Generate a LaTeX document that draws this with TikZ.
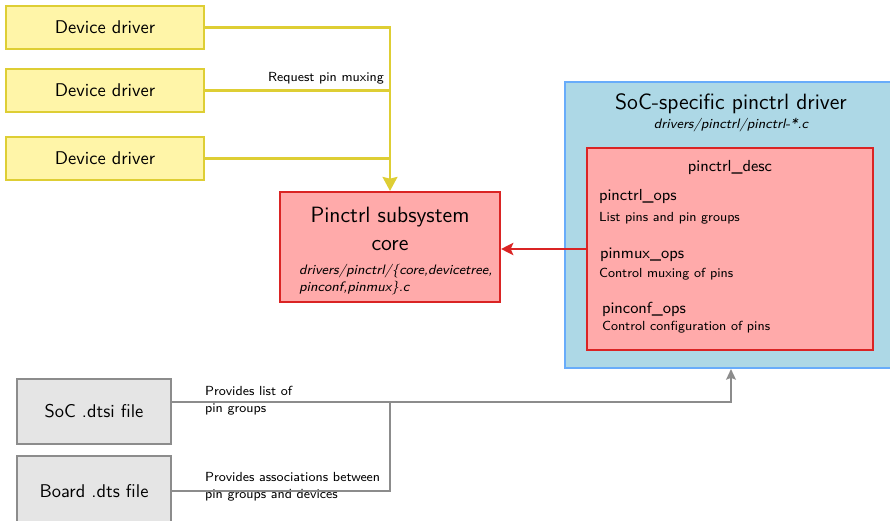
\documentclass[tikz,border=0pt]{standalone}
\usetikzlibrary{arrows.meta}
\usepackage{xcolor}
\definecolor{ddfill}{RGB}{255,245,168}
\definecolor{ddline}{RGB}{222,206,52}
\definecolor{corefill}{RGB}{255,170,170}
\definecolor{coreline}{RGB}{218,36,36}
\definecolor{socfill}{RGB}{173,216,230}
\definecolor{socline}{RGB}{104,172,250}
\definecolor{dtfill}{RGB}{229,229,229}
\definecolor{dtline}{RGB}{140,140,140}

\begin{document}
\begin{tikzpicture}[x=0.02cm, y=-0.02cm, line width=1.2pt,
    every node/.style={font=\sffamily\fontsize{10.5}{12}\selectfont},
    box/.style={draw, rectangle, inner sep=0pt},
    ddbox/.style={box, draw=ddline, fill=ddfill, minimum width=3.96cm, minimum height=0.86cm},
    dtbox/.style={box, draw=dtline, fill=dtfill, minimum width=3.08cm},
    big/.style={inner sep=0pt, align=center, font=\sffamily\fontsize{12.6}{15.9}\selectfont},
    path/.style={inner sep=0pt, align=left, font=\sffamily\slshape\fontsize{7.8}{9.7}\selectfont},
    lbl/.style={inner sep=0pt, align=left, anchor=west, font=\sffamily\fontsize{7.5}{9.7}\selectfont},
    ops/.style={inner sep=0pt, anchor=west, font=\sffamily\fontsize{9.1}{11}\selectfont}]
    \useasboundingbox (0,0) rectangle (890,521);
    \node[ddbox] (dd1) at (105,27.5) {Device driver};
    \node[ddbox] (dd2) at (105,90.5) {Device driver};
    \node[ddbox] (dd3) at (105,158.5) {Device driver};
    \node[box, draw=coreline, fill=corefill, minimum width=4.4cm, minimum height=2.2cm] (core) at (390,247) {};
    \node[big] (coret) at (390,229) {Pinctrl subsystem\\core};
    \node[path, anchor=west] (corep) at (298,280) {drivers/pinctrl/\{core,devicetree,\\pinconf,pinmux\}.c};
    \node[box, draw=socline, fill=socfill, minimum width=6.64cm, minimum height=5.72cm] (soc) at (731,225) {};
    \node[big] (soct) at (731,104) {SoC-specific pinctrl driver};
    \node[path] (socp) at (731,125) {drivers/pinctrl/pinctrl-*.c};
    \node[box, draw=coreline, fill=corefill, minimum width=5.72cm, minimum height=4.04cm] (desc) at (730,249) {};
    \node[ops, anchor=center] (desct) at (730,167) {pinctrl\_desc};
    \node[ops] (o1) at (598,197) {pinctrl\_ops};
    \node[lbl] (d1) at (598,218) {List pins and pin groups};
    \node[ops] (o2) at (599,255) {pinmux\_ops};
    \node[lbl] (d2) at (598,274) {Control muxing of pins};
    \node[ops] (o3) at (601,309) {pinconf\_ops};
    \node[lbl] (d3) at (601,327) {Control configuration of pins};
    \node[dtbox, minimum height=1.3cm] (dtsi) at (94,411.5) {SoC .dtsi file};
    \node[dtbox, minimum height=1.4cm] (dts) at (94,491) {Board .dts file};
    \node[lbl, anchor=east] (req) at (385,78) {Request pin muxing};
    \node[lbl] (l1) at (204,401) {Provides list of\\pin groups};
    \node[lbl] (l2) at (204,487) {Provides associations between\\pin groups and devices};
    \coordinate (j) at (390,402);
        \draw[ddline, -{Stealth[length=8pt, width=8.5pt, inset=1pt]}] (dd1.east) -| (core.north);
        \draw[ddline] (dd2.east) -- (dd2.east -| core.north);
        \draw[ddline] (dd3.east) -- (dd3.east -| core.north);
        \draw[coreline, -{Stealth[length=7pt, width=7pt, inset=1.5pt]}] (desc.west) -- (desc.west -| core.east);
        \draw[dtline] (dtsi.east |- j) -- (j);
        \draw[dtline] (dts.east) -| (j);
        \draw[dtline, -{Stealth[length=6pt, width=5.5pt, inset=1pt]}] (j) -| (soc.south);
\end{tikzpicture}
\end{document}
